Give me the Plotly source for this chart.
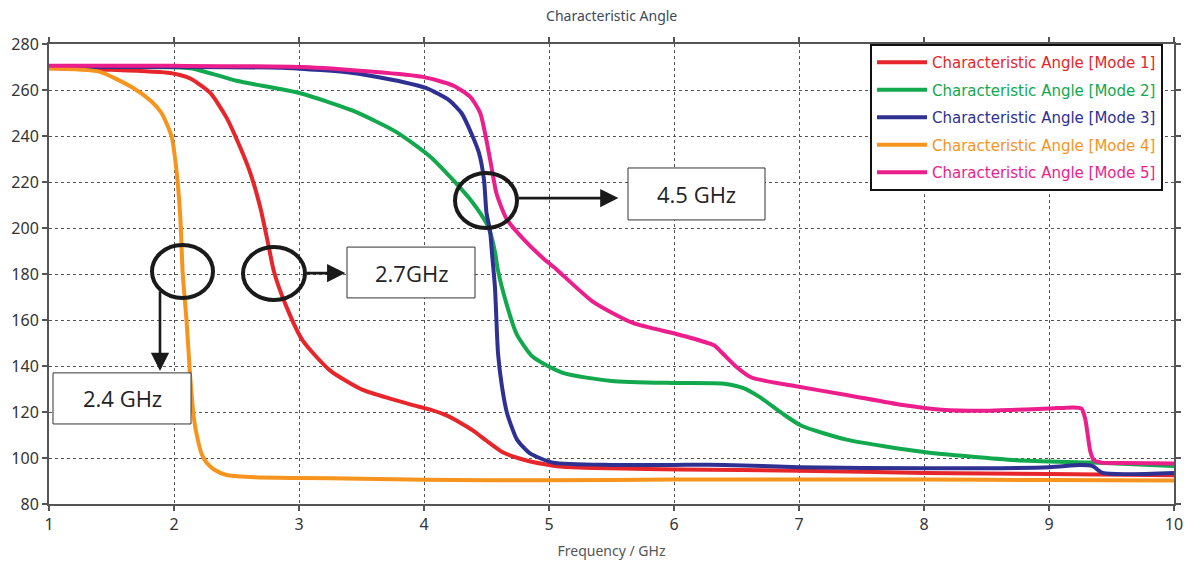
import plotly.graph_objects as go

# ---------------- data ----------------
mode1_x = [1.0, 1.5, 1.97, 2.13, 2.29, 2.42, 2.53, 2.61, 2.69, 2.75, 2.8, 2.9, 3.03, 3.25, 3.51,
           3.75, 3.91, 4.05, 4.18, 4.3, 4.39, 4.5, 4.63, 4.75, 4.85, 5.0, 5.11, 5.5, 6.05, 7.0,
           8.0, 9.0, 10.0]
mode1_y = [269.5, 268.8, 267.4, 265, 258.7, 248, 235, 224, 209, 194, 181, 165.7, 151, 138, 129.6,
           125.5, 123, 121, 118.5, 115, 112, 107.5, 102.5, 100, 98.5, 97, 96.2, 95.5, 95, 94.5,
           93.5, 93, 92.5]

mode2_x = [1.0, 1.5, 2.13, 2.5, 3.01, 3.43, 3.78, 4.05, 4.23, 4.39, 4.5, 4.53, 4.57, 4.59, 4.66,
           4.74, 4.87, 5.11, 5.5, 6.0, 6.4, 6.55, 6.68, 6.86, 7.02, 7.38, 8.0, 8.74, 9.35, 10.0]
mode2_y = [270, 270, 269.5, 264, 258.6, 251, 241.7, 231, 221, 211, 202, 198, 189, 182, 167,
           154, 144, 137, 133.5, 132.6, 132.3, 130.5, 126.7, 119.6, 114, 108, 102.6, 99, 98, 96.5]

mode3_x = [1.0, 2.0, 2.9, 3.43, 3.83, 4.02, 4.2, 4.3, 4.38, 4.44, 4.48, 4.5, 4.528, 4.544, 4.568,
           4.592, 4.624, 4.664, 4.744, 4.848, 5.032, 5.5, 6.0, 6.4, 7.0, 8.0, 9.0, 9.25, 9.35,
           9.43, 10.0]
mode3_y = [270, 270, 269.6, 267.4, 263.5, 260.8, 255.6, 250, 241, 232.6, 221, 206.5, 199, 189, 174,
           145.6, 131, 119.6, 108, 102, 98, 97, 97, 97, 96, 95.5, 96, 97, 96.5, 93.5, 93.5]

mode4_x = [1.0, 1.4, 1.67, 1.82, 1.9, 1.98, 2.02, 2.05, 2.07, 2.1, 2.13, 2.16, 2.19, 2.22, 2.26,
           2.32, 2.42, 2.6, 3.0, 3.5, 4.0, 5.0, 6.0, 7.0, 8.0, 9.0, 10.0]
mode4_y = [269.5, 268, 261, 255, 250, 240, 225, 205, 180, 160, 135, 117, 108, 102, 98,
           95, 92.6, 91.7, 91.3, 91.0, 90.5, 90.3, 90.6, 90.6, 90.6, 90.4, 90.2]

mode5_x = [1.0, 2.0, 3.03, 3.57, 3.99, 4.23, 4.37, 4.45, 4.5, 4.54, 4.58, 4.66, 4.79, 4.95, 5.06,
           5.35, 5.67, 6.05, 6.32, 6.38, 6.5, 6.62, 6.92, 7.38, 7.83, 8.14, 8.5, 8.74, 9.0, 9.19,
           9.26, 9.29, 9.31, 9.33, 9.36, 9.42, 9.6, 10.0]
mode5_y = [270.5, 270.5, 270, 268, 265.7, 262, 257, 250, 238, 226.5, 215, 204, 195.5, 187, 182,
           168, 158.7, 153.5, 149, 146, 139.6, 135, 131.7, 127.4, 123, 121, 120.5, 121, 121.5, 122,
           121.5, 117, 110, 103, 99, 98, 97.8, 97.6]

series_names = ["Characteristic Angle [Mode 1]", "Characteristic Angle [Mode 2]",
                "Characteristic Angle [Mode 3]", "Characteristic Angle [Mode 4]",
                "Characteristic Angle [Mode 5]"]
series_colors = ["#e6262b", "#12a84e", "#2e3192", "#f7941d", "#ec1e8c"]

x_ticks = [1, 2, 3, 4, 5, 6, 7, 8, 9, 10]
y_ticks = [80, 100, 120, 140, 160, 180, 200, 220, 240, 260, 280]

callout_labels = ["2.4 GHz", "2.7GHz", "4.5 GHz"]

# ---------------- figure ----------------
fig = go.Figure()
xs = [mode1_x, mode2_x, mode3_x, mode4_x, mode5_x]
ys = [mode1_y, mode2_y, mode3_y, mode4_y, mode5_y]
for i in range(5):
    fig.add_trace(go.Scatter(
        x=xs[i], y=ys[i], mode="lines",
        name=f"<span style='color:{series_colors[i]}'>{series_names[i]}</span>",
        legendgroup=f"g{i}",
        line=dict(color=series_colors[i], width=4, shape="spline", smoothing=0.6),
    ))

ink = "#1a1a1a"
# ellipses
ellipses = [(1.824, 2.312, 169.6, 192.6), (2.552, 3.048, 168.7, 191.7), (4.248, 4.744, 200.0, 223.9)]
for x0, x1, y0, y1 in ellipses:
    fig.add_shape(type="circle", xref="x", yref="y", x0=x0, x1=x1, y0=y0, y1=y1,
                  line=dict(color=ink, width=4), layer="above")

# boxes
boxes = [(1.032, 2.136, 114.8, 137.0), (3.384, 4.408, 169.6, 191.7), (5.632, 6.728, 203.5, 226.1)]
for (x0, x1, y0, y1), lab in zip(boxes, callout_labels):
    fig.add_shape(type="rect", xref="x", yref="y", x0=x0, x1=x1, y0=y0, y1=y1,
                  line=dict(color="#333333", width=1), fillcolor="white", layer="above")
    fig.add_annotation(x=(x0 + x1) / 2, y=(y0 + y1) / 2, xref="x", yref="y", text=lab,
                       showarrow=False, font=dict(family="Open Sans", size=22, color="#222222"))

# arrows (tail -> head)
arrows = [((1.888, 173.0), (1.888, 137.8)), ((3.048, 180.4), (3.37, 180.4)), ((4.744, 213.0), (5.555, 213.0))]
for (tx, ty), (hx, hy) in arrows:
    fig.add_annotation(x=hx, y=hy, ax=tx, ay=ty, xref="x", yref="y", axref="x", ayref="y",
                       text="", showarrow=True, arrowhead=2, arrowsize=1.4, arrowwidth=2.6,
                       arrowcolor=ink, standoff=0, startstandoff=0)

axis_common = dict(
    showline=True, linecolor="#555555", linewidth=2, mirror="ticks",
    showgrid=True, gridcolor="#555555", gridwidth=1.2, griddash="3px,3px",
    ticks="outside", ticklen=5, tickcolor="#555555", tickwidth=1.5,
    zeroline=False, automargin=False,
    tickfont=dict(family="Noto Sans", size=16, color="#333333"),
)

fig.update_layout(
    width=1190, height=567,
    margin=dict(l=49, r=16, t=44, b=63, autoexpand=False),
    paper_bgcolor="white", plot_bgcolor="white",
    title=dict(text="Characteristic Angle", x=0.514, xanchor="center", y=0.972, yanchor="middle",
               yref="container", font=dict(family="Noto Sans", size=14, color="#3c4a5a")),
    xaxis=dict(range=[1, 10], tickvals=x_ticks,
               title=dict(text="Frequency / GHz", standoff=12,
                          font=dict(family="Noto Sans", size=14, color="#555555")),
               **axis_common),
    yaxis=dict(range=[80, 280], tickvals=y_ticks, **axis_common),
    legend=dict(x=0.7298, y=1.0, xanchor="left", yanchor="top", bgcolor="white",
                bordercolor="#111111", borderwidth=2, tracegroupgap=5, itemwidth=50,
                font=dict(family="DejaVu Sans", size=15)),
    showlegend=True,
)

fig.write_html("out.html")
